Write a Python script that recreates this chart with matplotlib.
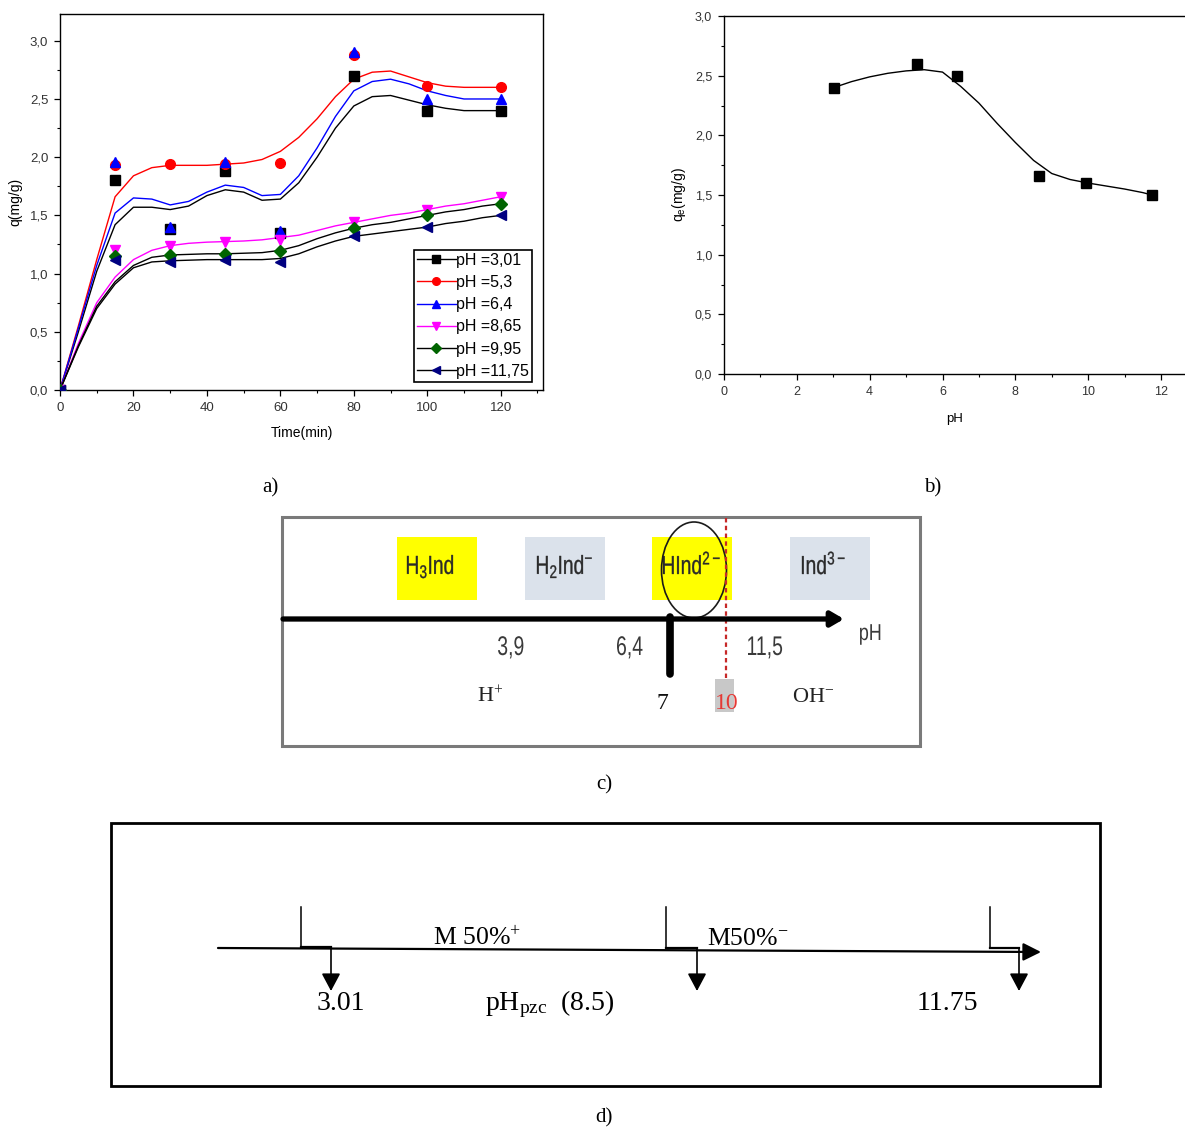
import numpy as np
import matplotlib
matplotlib.use('Agg')
import matplotlib.pyplot as plt
from matplotlib.lines import Line2D
from matplotlib.patches import Rectangle, Ellipse, PathPatch
from matplotlib.ticker import MultipleLocator, FuncFormatter
from matplotlib.textpath import TextPath
from matplotlib.font_manager import FontProperties
from matplotlib.transforms import Affine2D

plt.rcParams['font.family'] = 'Liberation Sans'
plt.rcParams['mathtext.default'] = 'regular'

# ---- a) kinetics at different pH ----
time = [0, 15, 30, 45, 60, 80, 100, 120]
q_301 = [0, 1.80, 1.38, 1.88, 1.35, 2.70, 2.40, 2.40]
q_53 = [0, 1.93, 1.94, 1.94, 1.95, 2.88, 2.61, 2.60]
q_64 = [0, 1.96, 1.40, 1.96, 1.37, 2.90, 2.50, 2.50]
q_865 = [0, 1.20, 1.24, 1.27, 1.29, 1.44, 1.55, 1.66]
q_995 = [0, 1.15, 1.16, 1.17, 1.19, 1.39, 1.50, 1.60]
q_1175 = [0, 1.12, 1.10, 1.12, 1.10, 1.32, 1.40, 1.50]

# fitted curves (sampled every 5 min)
t_fit = [0, 5, 10, 15, 20, 25, 30, 35, 40, 45, 50, 55, 60, 65, 70, 75, 80, 85, 90, 95, 100, 105, 110, 115, 120]
fit_301 = [0, 0.50, 1.02, 1.42, 1.57, 1.57, 1.55, 1.58, 1.67, 1.72, 1.70, 1.63, 1.64, 1.78, 2.00, 2.25, 2.44, 2.52, 2.53, 2.49, 2.45, 2.42, 2.40, 2.40, 2.40]
fit_53 = [0, 0.55, 1.12, 1.66, 1.84, 1.91, 1.93, 1.93, 1.93, 1.94, 1.95, 1.98, 2.05, 2.17, 2.33, 2.52, 2.67, 2.73, 2.74, 2.69, 2.64, 2.61, 2.60, 2.60, 2.60]
fit_64 = [0, 0.53, 1.07, 1.52, 1.65, 1.64, 1.59, 1.62, 1.70, 1.76, 1.74, 1.67, 1.68, 1.84, 2.08, 2.35, 2.57, 2.65, 2.67, 2.63, 2.57, 2.53, 2.50, 2.50, 2.50]
fit_865 = [0, 0.40, 0.75, 0.97, 1.12, 1.20, 1.24, 1.26, 1.27, 1.275, 1.28, 1.29, 1.31, 1.33, 1.37, 1.41, 1.44, 1.47, 1.50, 1.52, 1.55, 1.58, 1.60, 1.63, 1.66]
fit_995 = [0, 0.38, 0.72, 0.93, 1.07, 1.14, 1.16, 1.165, 1.17, 1.17, 1.175, 1.18, 1.20, 1.24, 1.30, 1.35, 1.39, 1.42, 1.44, 1.47, 1.50, 1.53, 1.55, 1.58, 1.60]
fit_1175 = [0, 0.37, 0.70, 0.91, 1.05, 1.10, 1.11, 1.115, 1.12, 1.12, 1.12, 1.12, 1.13, 1.17, 1.23, 1.28, 1.32, 1.34, 1.36, 1.38, 1.40, 1.43, 1.45, 1.48, 1.50]

labels_a = ['pH =3,01', 'pH =5,3', 'pH =6,4', 'pH =8,65', 'pH =9,95', 'pH =11,75']

# ---- b) qe vs pH ----
ph = [3.01, 5.3, 6.4, 8.65, 9.95, 11.75]
qe = [2.40, 2.60, 2.50, 1.66, 1.60, 1.50]
ph_fit = [3.01, 3.5, 4, 4.5, 5, 5.5, 6, 6.5, 7, 7.5, 8, 8.5, 9, 9.5, 10, 10.5, 11, 11.5, 11.75]
qe_fit = [2.40, 2.45, 2.49, 2.52, 2.54, 2.55, 2.53, 2.41, 2.27, 2.10, 1.94, 1.79, 1.68, 1.63, 1.60, 1.575, 1.55, 1.52, 1.50]

# ---- c) / d) pH scales ----
species = ['H$_3$Ind', 'H$_2$Ind$^{-}$', 'HInd$^{2-}$', 'Ind$^{3-}$']
pka = ['3,9', '6,4', '11,5']
ph_marks = ['3.01', 'pH$_{pzc}$  (8.5)', '11.75']

W, H = 1185, 1130
fig = plt.figure(figsize=(W / 100, H / 100), dpi=100)


def fbox(x0, y0, x1, y1):
    return [x0 / W, 1 - y1 / H, (x1 - x0) / W, (y1 - y0) / H]


comma = FuncFormatter(lambda v, p: f'{v:.1f}'.replace('.', ','))


def style_axes(ax, lsize):
    for s in ['left', 'bottom', 'top', 'right']:
        ax.spines[s].set_linewidth(1.0)
    ax.tick_params(which='major', direction='out', length=4, width=0.9,
                   labelsize=lsize, colors='black', labelcolor='#333333',
                   top=False, right=False, pad=4.5)
    ax.tick_params(which='minor', direction='out', length=2.5, width=0.8,
                   top=False, right=False)
    ax.yaxis.set_major_formatter(comma)


# overlay in pixel units for the schematic panels and the captions
ov = fig.add_axes([0, 0, 1, 1])
ov.set_xlim(0, W)
ov.set_ylim(H, 0)
ov.axis('off')


def narrow_text(x, y, s, size, sx=0.75, color='#333333', edge=0.0):
    # condensed sans text: left ink edge at x, baseline at y
    tp = TextPath((0, 0), s, size=size, prop=FontProperties(family='Liberation Sans'))
    ext = tp.get_extents()
    tr = Affine2D().translate(-ext.x0, 0).scale(sx, -1).translate(x, y)
    ov.add_patch(PathPatch(tr.transform_path(tp), fc=color, ec=color, lw=edge))


# panel a
ax1 = fig.add_axes(fbox(60, 14, 543, 390))
series = [
    (q_301, fit_301, 'black', 'black', 's', 6.5),
    (q_53, fit_53, 'red', 'red', 'o', 7),
    (q_64, fit_64, 'blue', 'blue', '^', 7.5),
    (q_865, fit_865, '#ff00ff', '#ff00ff', 'v', 7.5),
    (q_995, fit_995, 'black', '#006400', 'D', 6),
    (q_1175, fit_1175, 'black', '#000080', '<', 7.5),
]
handles = []
for (qv, fv, lc, mc, mk, ms), lab in zip(series, labels_a):
    ax1.plot(t_fit, fv, color=lc, lw=1.0, zorder=2)
    ax1.plot(time, qv, ls='none', marker=mk, ms=ms, color=mc, zorder=3)
    handles.append(Line2D([], [], color=lc, lw=1.0, marker=mk, ms=5.5,
                          markerfacecolor=mc, markeredgecolor=mc, label=lab))
ax1.set_xlim(0, 131.5)
ax1.set_ylim(0, 3.23)
ax1.xaxis.set_major_locator(MultipleLocator(20))
ax1.xaxis.set_minor_locator(MultipleLocator(10))
ax1.yaxis.set_major_locator(MultipleLocator(0.5))
ax1.yaxis.set_minor_locator(MultipleLocator(0.25))
style_axes(ax1, 9.5)
ax1.set_xlabel('Time(min)', fontsize=10, labelpad=9)
ax1.set_ylabel('q(mg/g)', fontsize=10, labelpad=5)
leg = ax1.legend(handles=handles, loc='lower left',
                 bbox_to_anchor=(414 / W, 1 - 382 / H, 118 / W, 132 / H),
                 bbox_transform=fig.transFigure, borderaxespad=0,
                 fontsize=11.5, handlelength=2.4, handletextpad=0.0,
                 labelspacing=0.45, borderpad=0.2, fancybox=False,
                 framealpha=1, edgecolor='black')
leg.get_frame().set_linewidth(1.2)

# panel b
ax2 = fig.add_axes(fbox(724, 16, 1185, 374))
ax2.plot(ph_fit, qe_fit, color='black', lw=1.0)
ax2.plot(ph, qe, ls='none', marker='s', ms=7.5, color='black')
ax2.set_xlim(0, (1185 - 724) / 36.42)
ax2.set_ylim(0, 3.0)
ax2.xaxis.set_major_locator(MultipleLocator(2))
ax2.xaxis.set_minor_locator(MultipleLocator(1))
ax2.yaxis.set_major_locator(MultipleLocator(0.5))
ax2.yaxis.set_minor_locator(MultipleLocator(0.25))
style_axes(ax2, 9)
ax2.xaxis.set_major_formatter(FuncFormatter(lambda v, p: f'{v:.0f}'))
ax2.spines['right'].set_visible(False)
ax2.set_xlabel('pH', fontsize=9.5, labelpad=11)
ax2.set_ylabel('$q_e$(mg/g)', fontsize=10, labelpad=5)

# panel c: indicator species along the pH scale
box_x = [397, 525, 652, 790]
box_col = ['#ffff00', '#dbe2eb', '#ffff00', '#dbe2eb']
text_x = [407, 537, 663, 802]
ov.add_patch(Rectangle((282, 517), 638, 229, fill=False, ec='#7a7a7a', lw=2.2))
for x0, col in zip(box_x, box_col):
    ov.add_patch(Rectangle((x0, 537), 80, 63, color=col, lw=0))
for xt, lab in zip(text_x, species):
    narrow_text(xt, 574, lab, 26, sx=0.74, color='#2a2a2a', edge=0.25)
ov.annotate('', xy=(844, 619), xytext=(283, 619),
            arrowprops=dict(arrowstyle='-|>,head_length=0.6,head_width=0.35',
                            lw=3.8, color='black', mutation_scale=12.6,
                            shrinkA=0, shrinkB=0))
narrow_text(860, 640, 'pH', 23, sx=0.78, color='#3a3a3a')
for xp, lab in zip([498, 617, 748], pka):
    narrow_text(xp, 655, lab, 27, sx=0.72, color='#3a3a3a')
ov.plot([670, 670], [617, 674], color='black', lw=5.5, solid_capstyle='round')
ov.add_patch(Ellipse((694, 570), 65, 96, fill=False, ec='#1a1a1a', lw=1.2))
ov.add_patch(Rectangle((715, 679), 19, 33, color='#c8c8c8', lw=0))
ov.plot([726, 726], [518, 680], color='#c62828', lw=1.6, ls=(0, (2, 1.5)))
serif = dict(family='Liberation Serif')
ov.text(656, 709, '7', fontsize=17, ha='left', va='baseline', color='#111111', **serif)
ov.text(715, 709, '10', fontsize=17, ha='left', va='baseline', color='#e53935', **serif)
ov.text(477, 702, 'H$^{+}$', fontsize=16, ha='left', va='baseline', color='#222222', **serif)
ov.text(792, 702, 'OH$^{-}$', fontsize=16, ha='left', va='baseline', color='#222222', **serif)

# panel d: charge of the adsorbent around pHpzc
ov.add_patch(Rectangle((111, 823), 989, 263, fill=False, ec='black', lw=2))
ov.annotate('', xy=(1041, 952), xytext=(218, 948),
            arrowprops=dict(arrowstyle='-|>,head_length=0.7,head_width=0.35',
                            lw=1.6, color='black', mutation_scale=15.5,
                            shrinkA=0, shrinkB=0))
for xv, xa, yb in [(301, 331, 947), (666, 697, 948), (990, 1019, 948)]:
    ov.plot([xv, xv], [907, yb], color='black', lw=1.1)
    ov.plot([xv, xa], [yb, yb], color='black', lw=1.6)
    ov.annotate('', xy=(xa, 991), xytext=(xa, yb),
                arrowprops=dict(arrowstyle='-|>,head_length=0.75,head_width=0.4',
                                lw=1.2, color='black', mutation_scale=14.4,
                                shrinkA=0, shrinkB=0))
ov.text(433, 945, 'M 50%$^{+}$', fontsize=18.5, ha='left', va='baseline', **serif)
ov.text(707, 945, 'M50%$^{-}$', fontsize=18.5, ha='left', va='baseline', **serif)
for xp, lab in zip([317, 485, 917], ph_marks):
    ov.text(xp, 1010, lab, fontsize=20, ha='left', va='baseline', **serif)

# captions
for xp, yp, lab in [(270, 488, 'a)'), (933, 488, 'b)'), (604, 785, 'c)'), (604, 1118, 'd)')]:
    ov.text(xp, yp, lab, fontsize=15, ha='center', va='center', **serif)

fig.savefig('out.png', dpi=100)
